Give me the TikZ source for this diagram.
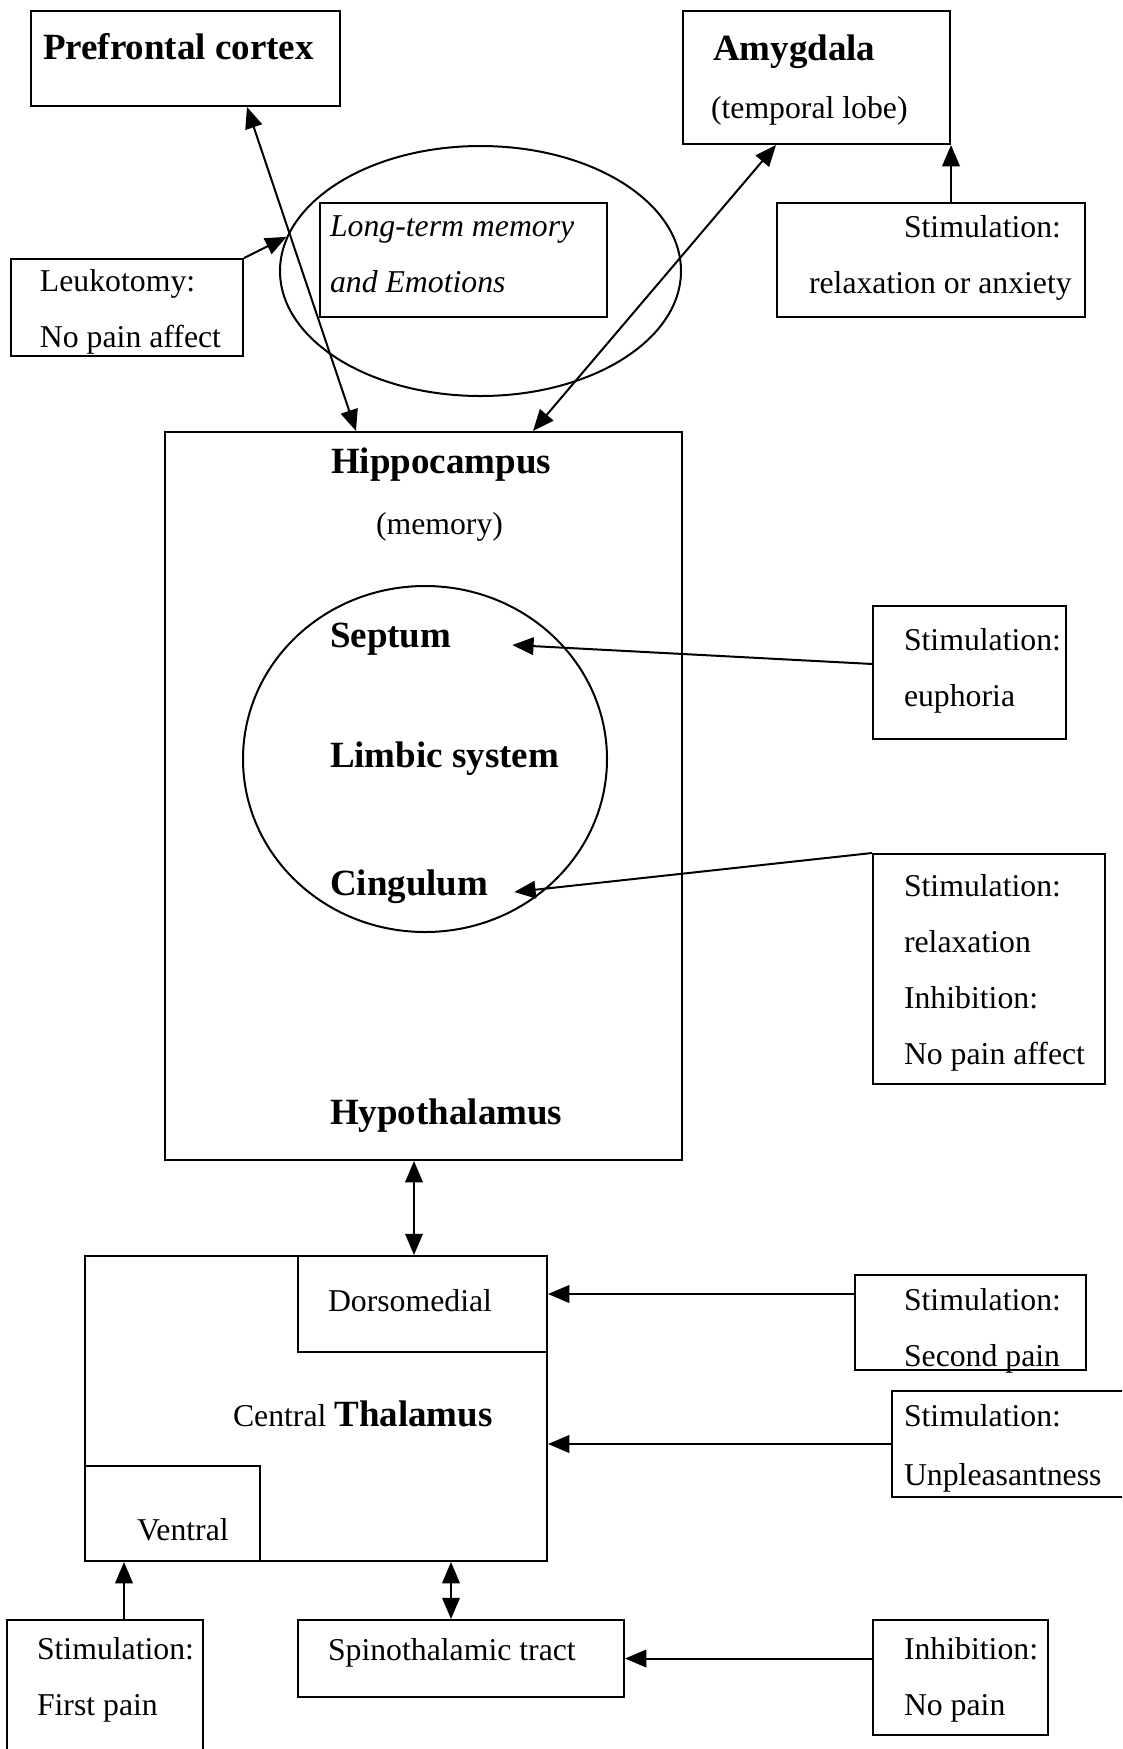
\documentclass[tikz,border=0pt]{standalone}
\usepackage{fontspec}
\setmainfont{Liberation Serif}
\usetikzlibrary{shapes.geometric, arrows.meta, fit}

\begin{document}
\begin{tikzpicture}[
    x=0.4pt, y=-0.4pt,
    line width=0.8pt,
    >={Triangle[length=8.5pt, width=7pt]},
    every node/.style={inner sep=0pt},
    box/.style={draw, rectangle},
    oval/.style={draw, ellipse},
    txt/.style={anchor=base west, align=left, font=\fontsize{12.7}{22.4}\selectfont},
    heading/.style={anchor=base west, font=\fontsize{14.8}{18}\selectfont\bfseries},
    arrow/.style={->},
    biarrow/.style={<->}
]
\useasboundingbox (0,0) rectangle (1122,1749);
\clip (0,0) rectangle (1122,1749);

% top row
\node[box, fit={(31,11) (340,106)}] (pfc) {};
\node[heading] (pfctext) at (42,59) {Prefrontal cortex};
\node[box, fit={(683,11) (950,144)}] (amy) {};
\node[heading] (amytitle) at (712,60) {Amygdala};
\node[txt] (amysub) at (710,118) {(temporal lobe)};

\node[oval, minimum width=160.4pt, minimum height=100pt] (emo) at (480.5,271) {};
\node[box, fit={(320,203) (607,317)}] (ltm) {};
\node[txt, font=\fontsize{12.7}{22.4}\selectfont\itshape] (ltmtext) at (329,292) {Long-term memory\\and Emotions};
\node[box, fit={(11,259) (243,356)}] (leuk) {};
\node[txt] (leuktext) at (39,347) {Leukotomy:\\No pain affect};
\node[box, fit={(777,203) (1085,317)}] (amystim) {};
\node[txt] (amystimtop) at (903,237) {Stimulation:};
\node[txt] (amystimbot) at (808,293) {relaxation or anxiety};

% limbic block
\node[box, fit={(165,432) (682,1160)}] (hip) {};
\node[heading] (hiptitle) at (330,473) {Hippocampus};
\node[txt] (hipsub) at (375,534) {(memory)};
\node[oval, minimum width=145.6pt, minimum height=138.4pt] (limbic) at (425,759) {};
\node[heading] (septum) at (329,647) {Septum};
\node[heading] (limbictext) at (329,767) {Limbic system};
\node[heading] (cingulum) at (329,895) {Cingulum};
\node[heading] (hypo) at (329,1124) {Hypothalamus};
\node[box, fit={(873,606) (1066,739)}] (sepstim) {};
\node[txt] (sepstimtext) at (903,706) {Stimulation:\\euphoria};
\node[box, fit={(873,854) (1105,1084)}] (cingstim) {};
\node[txt] (cingstimtext) at (903,1064) {Stimulation:\\relaxation\\Inhibition:\\No pain affect};

% thalamus block
\node[box, fit={(85,1256) (547,1561)}] (thal) {};
\node[box, fit={(298,1256) (547,1352)}] (dorso) {};
\node[txt] (dorsotext) at (327,1311) {Dorsomedial};
\node[txt] (thaltext) at (232,1426) {Central {\fontsize{14.8}{18}\selectfont\bfseries Thalamus}};
\node[box, fit={(85,1466) (260,1561)}] (ventral) {};
\node[txt] (ventraltext) at (136,1540) {Ventral};
\node[box, fit={(855,1275) (1086,1370)}] (secstim) {};
\node[txt] (secstimtext) at (903,1366) {Stimulation:\\Second pain};
\node[box, fit={(892,1391) (1140,1497)}] (unpstim) {};
\node[txt] (unpstimtext) at (903,1485) {Stimulation:\\[1.2pt]Unpleasantness};

% bottom row
\node[box, fit={(298,1620) (624,1697)}] (spino) {};
\node[txt] (spinotext) at (327,1660) {Spinothalamic tract};
\node[box, fit={(7,1620) (203,1790)}] (firststim) {};
\node[txt] (firststimtext) at (36,1715) {Stimulation:\\First pain};
\node[box, fit={(873,1620) (1048,1735)}] (inhstim) {};
\node[txt] (inhstimtext) at (903,1715) {Inhibition:\\No pain};

% connections
\draw[biarrow] (pfc.south -| 247,0) -- (hip.north -| 356,0);
\draw[biarrow] (amy.south -| 776,0) -- (hip.north -| 533,0);
\draw[arrow] (leuk.north east) -- (emo.170);
\draw[arrow] (amy.south east |- amystim.north) -- (amy.south east);
\draw[arrow] (sepstim.175) -- ([xshift=24pt, yshift=0.8pt]septum.base east);
\draw[arrow] (cingstim.north west) -- ([xshift=10pt, yshift=1.2pt]cingulum.base east);
\draw[biarrow] (hip.south -| 414,0) -- (thal.north -| 414,0);
\draw[arrow] (secstim.west |- 0,1294) -- (dorso.east |- 0,1294);
\draw[arrow] (unpstim.west) -- (thal.east |- unpstim.west);
\draw[biarrow] (thal.south -| 451,0) -- (spino.north -| 451,0);
\draw[arrow] (inhstim.west |- spino.east) -- (spino.east);
\draw[arrow] (firststim.north -| 124,0) -- (ventral.south -| 124,0);
\end{tikzpicture}
\end{document}
